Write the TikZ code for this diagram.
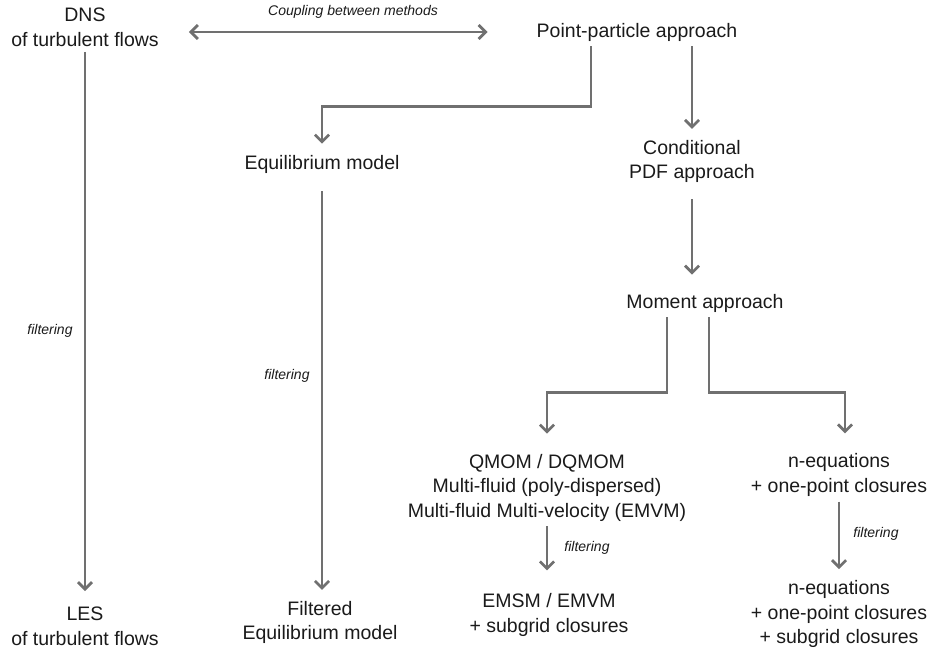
\documentclass[tikz,border=0pt]{standalone}
\usepackage{fontspec}
\setmainfont{Liberation Sans}
\usetikzlibrary{arrows.meta}

\definecolor{flowgray}{HTML}{707070}
\definecolor{inkblack}{HTML}{1A1A1A}

\tikzset{
    >={Straight Barb[length=7pt, width=14pt]},
    method/.style={align=center, inner sep=5pt, text=inkblack, font=\fontsize{19.5}{24.5}\selectfont},
    note/.style={inner sep=0pt, text=inkblack, font=\fontsize{14}{16}\selectfont\itshape},
    flow/.style={draw=flowgray, line width=2.8pt, ->, shorten >=6pt},
}

\begin{document}
\begin{tikzpicture}[x=1pt, y=-1pt]
    \useasboundingbox (0,0) rectangle (930,653);

    \node[method] (dns) at (85, 27.5) {DNS\\of turbulent flows};
    \node[method] (pp) at (637, 32) {Point-particle approach};
    \node[method] (eq) at (322, 164) {Equilibrium model};
    \node[method] (cpdf) at (692, 161.5) {Conditional\\PDF approach};
    \node[method] (mom) at (705, 303) {Moment approach};
    \node[method] (qmom) at (547, 487.5) {QMOM / DQMOM\\Multi-fluid (poly-dispersed)\\Multi-fluid Multi-velocity (EMVM)};
    \node[method] (neq) at (839, 475) {n-equations\\+ one-point closures};
    \node[method] (les) at (85, 626.5) {LES\\of turbulent flows};
    \node[method] (feq) at (320, 622.5) {Filtered\\Equilibrium model};
    \node[method] (emsm) at (549, 615) {EMSM / EMVM\\+ subgrid closures};
    \node[method] (neqf) at (839, 614) {n-equations\\+ one-point closures\\+ subgrid closures};

    \node[note] (couple) at (353, 12) {Coupling between methods};
    \node[note] (filtdns) at (50, 331) {filtering};
    \node[note] (filteq) at (287, 376) {filtering};
    \node[note] (filtqmom) at (587, 548) {filtering};
    \node[note] (filtneq) at (876, 534) {filtering};

    \draw[flow, <->, yshift=2pt, shorten <=25pt, shorten >=44pt] (dns.east |- pp.west) -- (pp.west);
    \draw[flow, shorten >=11pt] (dns.south) -- (les.north);
    \draw[flow] ([xshift=-46pt]pp.south) -- ++(0, 60) -| (eq.north);
    \draw[flow] (pp.south -| cpdf.north) -- (cpdf.north);
    \draw[flow, shorten <=13pt] (eq.south) -- (eq.south |- feq.north);
    \draw[flow, shorten <=11pt, shorten >=14pt] (cpdf.south) -- (cpdf.south |- mom.north);
    \draw[flow, shorten >=15pt] ([xshift=-38pt]mom.south) -- ++(0, 75) -| (qmom.north);
    \draw[flow, shorten >=15pt] ([xshift=4pt]mom.south) -- ++(0, 75) -| ([xshift=6pt]neq.north);
    \draw[flow, shorten >=18pt] (qmom.south) -- (qmom.south |- emsm.north);
    \draw[flow] (neq.south) -- (neq.south |- neqf.north);
\end{tikzpicture}
\end{document}
